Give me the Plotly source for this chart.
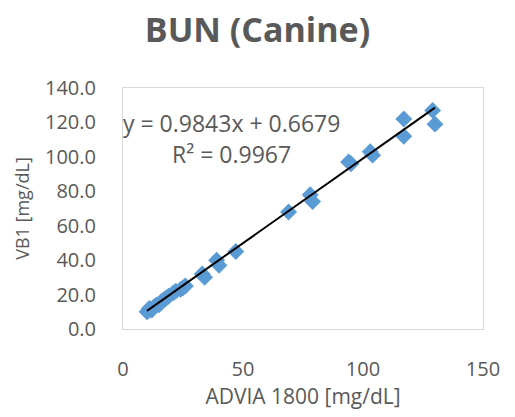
import plotly.graph_objects as go

advia = [10, 11, 11, 12, 13, 14, 15, 16, 17, 18, 19, 21, 22, 24, 25, 26,
         33, 34, 39, 40, 47, 69, 78, 79, 94, 95, 103, 104, 117, 117, 129, 130]
vb1 = [10, 11, 12, 11, 13, 14, 14, 16, 17, 18, 19, 21, 22, 23, 24, 25,
       32, 30, 40, 37, 45, 68, 78, 74, 97, 96, 103, 101, 122, 112, 127, 119]
slope = 0.9843
intercept = 0.6679
r2 = 0.9967
x_ticks = [0, 50, 100, 150]
y_ticks = [0, 20, 40, 60, 80, 100, 120, 140]

grey = "#595959"
font = "Open Sans"

x_line = [min(advia), max(advia)]
y_line = [slope * v + intercept for v in x_line]

fig = go.Figure()
fig.add_trace(go.Scatter(x=advia, y=vb1, mode="markers",
                         marker=dict(symbol="diamond", size=13, color="#5B9BD5",
                                     line=dict(width=0)), showlegend=False))
fig.add_trace(go.Scatter(x=x_line, y=y_line, mode="lines",
                         line=dict(color="black", width=2), showlegend=False))

fig.add_annotation(x=45.4, y=119.6, xref="x", yref="y", showarrow=False,
                   text=f"y = {slope}x + {intercept}",
                   font=dict(family=font, size=23, color=grey))
fig.add_annotation(x=45.4, y=101.5, xref="x", yref="y", showarrow=False,
                   text=f"R² = {r2}",
                   font=dict(family=font, size=23, color=grey))

fig.update_layout(
    width=515, height=417,
    margin=dict(l=123, r=32, t=88, b=82),
    paper_bgcolor="white", plot_bgcolor="white",
    title=dict(text="<b>BUN (Canine)</b>", x=0.5, xanchor="center",
               y=1 - 30 / 417, yanchor="middle", yref="container",
               font=dict(family=font, size=34, color=grey)),
    font=dict(family=font, color=grey),
    xaxis=dict(range=[0, 150], tickvals=x_ticks, ticktext=[str(v) for v in x_ticks],
               showgrid=False, zeroline=False, showline=True, linecolor="#D9D9D9",
               mirror=True, linewidth=1, ticks="", ticklabelstandoff=22,
               tickfont=dict(family=font, size=20, color=grey),
               title=dict(text="ADVIA 1800 [mg/dL]", standoff=8,
                          font=dict(family=font, size=21, color=grey))),
    yaxis=dict(range=[0, 140], tickvals=y_ticks, ticktext=[f"{v:.1f}" for v in y_ticks],
               showgrid=False, zeroline=False, showline=True, linecolor="#D9D9D9",
               mirror=True, linewidth=1, ticks="", ticklabelstandoff=22,
               tickfont=dict(family=font, size=20, color=grey),
               title=dict(text="VB1 [mg/dL]", standoff=10,
                          font=dict(family=font, size=18, color=grey))),
)

fig.write_html("out.html")
